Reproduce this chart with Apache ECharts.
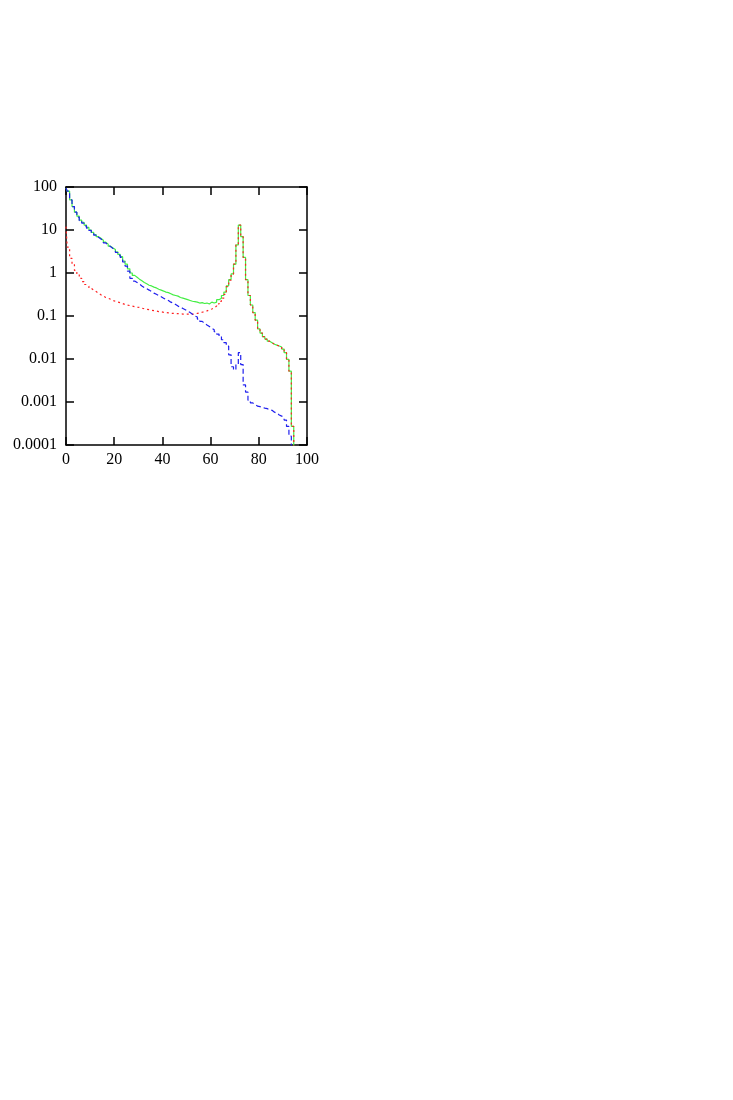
<!DOCTYPE html>
<html>
<head>
<meta charset="utf-8">
<script src="https://cdn.jsdelivr.net/npm/echarts@6/dist/echarts.min.js"></script>
<style>
  html, body { margin: 0; padding: 0; background: #fff; }
  #chart { width: 733px; height: 1100px; }
</style>
</head>
<body>
<div id="chart"></div>
<script>
// bin centres (x = 0 .. 95)
var bins = [];
for (var i = 0; i <= 95; i++) bins.push(i);

// total (green, solid)
var totalVals = [
  95, 80, 50, 35, 26, 21, 17, 15, 13, 11.5,
  10, 8.8, 7.8, 7, 6.4, 5.8, 5.2, 4.7, 4.2, 3.8,
  3.5, 3.1, 2.7, 2.4, 1.9, 1.6, 1.25, 1.0, 0.88, 0.8,
  0.72, 0.66, 0.6, 0.56, 0.52, 0.5, 0.47, 0.45, 0.42, 0.4,
  0.38, 0.36, 0.35, 0.33, 0.31, 0.3, 0.29, 0.27, 0.26, 0.25,
  0.24, 0.23, 0.22, 0.215, 0.21, 0.2, 0.205, 0.195, 0.2, 0.19,
  0.21, 0.2, 0.21, 0.24, 0.26, 0.3, 0.36, 0.5, 0.7, 0.95,
  1.6, 4.5, 13, 7, 2.3, 0.7, 0.3, 0.18, 0.12, 0.08,
  0.05, 0.04, 0.033, 0.029, 0.026, 0.024, 0.022, 0.021, 0.02, 0.019,
  0.017, 0.014, 0.0098, 0.0052, 0.00027, 0.00005
];

// first component (blue, dashed)
var blueVals = [
  95, 80, 50, 35, 26, 20, 16.5, 14.5, 12.5, 11,
  9.8, 8.6, 7.6, 6.8, 6.2, 5.6, 5.0, 4.5, 4.1, 3.7,
  3.4, 3.0, 2.6, 2.3, 1.8, 1.45, 1.1, 0.75, 0.65, 0.6,
  0.55, 0.5, 0.46, 0.43, 0.4, 0.37, 0.34, 0.32, 0.3, 0.28,
  0.26, 0.24, 0.23, 0.21, 0.2, 0.185, 0.17, 0.16, 0.15, 0.14,
  0.13, 0.12, 0.11, 0.1, 0.095, 0.085, 0.075, 0.068, 0.062, 0.057,
  0.052, 0.048, 0.043, 0.038, 0.034, 0.028, 0.024, 0.02, 0.0125, 0.0066,
  0.0056, 0.0075, 0.014, 0.0074, 0.0025, 0.0017, 0.0011, 0.00095, 0.00088, 0.0008,
  0.00078, 0.00075, 0.00072, 0.0007, 0.00066, 0.00064, 0.00058, 0.00055, 0.0005, 0.00047,
  0.00043, 0.00038, 0.00027, 0.00016, 0.00005, 0.00005
];

// second component (red, dotted)
var redVals = [
  12, 4, 2.2, 1.6, 1.15, 0.93, 0.75, 0.63, 0.54, 0.49,
  0.44, 0.4, 0.37, 0.34, 0.31, 0.29, 0.27, 0.26, 0.245, 0.23,
  0.22, 0.21, 0.205, 0.195, 0.185, 0.18, 0.175, 0.17, 0.165, 0.16,
  0.158, 0.152, 0.147, 0.143, 0.14, 0.136, 0.133, 0.13, 0.127, 0.125,
  0.122, 0.12, 0.118, 0.116, 0.115, 0.114, 0.113, 0.112, 0.111, 0.11,
  0.11, 0.11, 0.11, 0.112, 0.115, 0.118, 0.122, 0.127, 0.132, 0.138,
  0.146, 0.155, 0.17, 0.19, 0.22, 0.26, 0.32, 0.48, 0.68, 0.93,
  1.6, 4.5, 13, 7, 2.3, 0.7, 0.3, 0.18, 0.12, 0.08,
  0.05, 0.04, 0.033, 0.029, 0.026, 0.024, 0.022, 0.021, 0.02, 0.019,
  0.017, 0.014, 0.0098, 0.0052, 0.00027, 0.00005
];

var xTicks = [0, 20, 40, 60, 80, 100];
var yTickLabels = ['0.0001', '0.001', '0.01', '0.1', '1', '10', '100'];

function pairs(vals) {
  return vals.map(function (v, i) { return [bins[i], v]; });
}

var font = '"Liberation Serif", "DejaVu Serif", serif';
var axisLine = { show: true, onZero: false, lineStyle: { color: '#000', width: 1.5 } };
var axisTick = { show: true, inside: true, length: 8, lineStyle: { color: '#000', width: 1.5 } };

var chart = echarts.init(document.getElementById('chart'));
chart.setOption({
  animation: false,
  backgroundColor: '#fff',
  grid: { left: 66, right: 426, top: 187, bottom: 655 },
  xAxis: [
    {
      type: 'value', position: 'bottom', min: 0, max: 100, interval: 20,
      axisLine: axisLine, axisTick: axisTick, splitLine: { show: false },
      axisLabel: {
        color: '#000', fontFamily: font, fontSize: 16, margin: 7,
        formatter: function (v) { return xTicks.indexOf(v) >= 0 ? String(v) : ''; }
      }
    },
    {
      type: 'value', position: 'top', min: 0, max: 100, interval: 20,
      axisLine: axisLine, axisTick: axisTick, splitLine: { show: false },
      axisLabel: { show: false }
    }
  ],
  yAxis: [
    {
      type: 'log', logBase: 10, position: 'left', min: 0.0001, max: 100, interval: 1,
      axisLine: axisLine, axisTick: axisTick, minorTick: { show: false }, splitLine: { show: false },
      axisLabel: {
        color: '#000', fontFamily: font, fontSize: 16, margin: 9,
        formatter: function (v) { return yTickLabels[Math.round(Math.log10(v)) + 4] || ''; }
      }
    },
    {
      type: 'log', logBase: 10, position: 'right', min: 0.0001, max: 100, interval: 1,
      axisLine: axisLine, axisTick: axisTick, splitLine: { show: false },
      axisLabel: { show: false }
    }
  ],
  series: [
    {
      name: 'total', type: 'line', step: 'middle', symbol: 'none', clip: true,
      data: pairs(totalVals),
      lineStyle: { color: '#44ee44', width: 1.2, type: 'solid' }
    },
    {
      name: 'red', type: 'line', step: 'middle', symbol: 'none', clip: true,
      data: pairs(redVals),
      lineStyle: { color: '#ff2222', width: 1.2, type: [2, 3] }
    },
    {
      name: 'blue', type: 'line', step: 'middle', symbol: 'none', clip: true,
      data: pairs(blueVals),
      lineStyle: { color: '#1f1fee', width: 1.2, type: [5, 3] }
    }
  ]
});
</script>
</body>
</html>
